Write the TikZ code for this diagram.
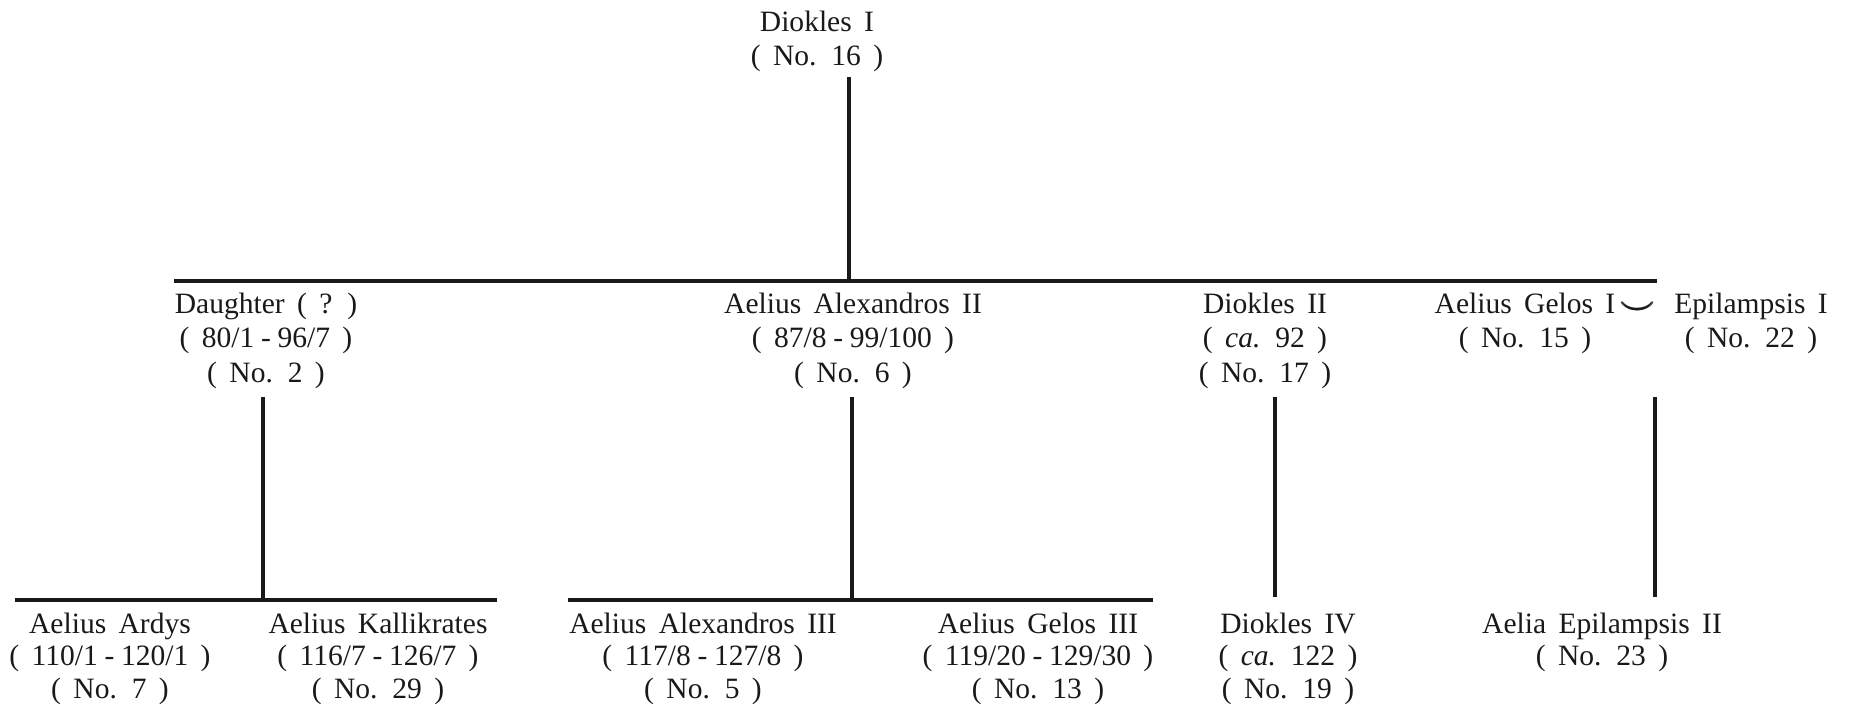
\documentclass[tikz,border=0pt]{standalone}
\usepackage{amsmath}
\usepackage{fontspec}
\setmainfont{Liberation Serif}
\usepackage{tikz}
\usetikzlibrary{positioning}
\definecolor{ink}{RGB}{25,25,25}
\newcommand{\namefont}[1]{\fontsize{8.4}{#1}\selectfont\spaceskip=0.42em plus 0.1em\relax}
\newcommand{\datesep}{\kern1.9pt-\kern1.9pt}

\begin{document}
\begin{tikzpicture}[x=0.1mm, y=-0.1mm,
  person/.style={anchor=north, inner sep=0pt, align=center, text=ink,
    font=\namefont{9.9}},
  lowrow/.style={person, font=\namefont{9.3}},
  stem/.style={draw=ink, line width=0.9pt}]
  \useasboundingbox (0,0) rectangle (1849,709);

  % generation I
  \node[person] (diokles1) at (817,10) {Diokles I\\( No. 16 )};

  % generation II
  \node[person] (daughter)    at (266,292)  {Daughter ( ? )\\( 80/1\datesep96/7 )\\( No. 2 )};
  \node[person] (alexandros2) at (853,292)  {Aelius Alexandros II\\( 87/8\datesep99/100 )\\( No. 6 )};
  \node[person] (diokles2)    at (1265,292) {Diokles II\\( {\itshape ca.} 92 )\\( No. 17 )};
  \node[person] (gelos1)      at (1525,292) {Aelius Gelos I\\( No. 15 )};
  \node[inner sep=0pt, text=ink] (wed) at (1638,309) {$\pmb{\smile}$};
  \node[person] (epilampsis1) at (1751,292) {Epilampsis I\\( No. 22 )};

  % generation III
  \node[lowrow] (ardys)       at (110,612)  {Aelius Ardys\\( 110/1\datesep120/1 )\\( No. 7 )};
  \node[lowrow] (kallikrates) at (378,612)  {Aelius Kallikrates\\( 116/7\datesep126/7 )\\( No. 29 )};
  \node[lowrow] (alexandros3) at (703,612)  {Aelius Alexandros III\\( 117/8\datesep127/8 )\\( No. 5 )};
  \node[lowrow] (gelos3)      at (1038,612) {Aelius Gelos III\\( 119/20\datesep129/30 )\\( No. 13 )};
  \node[lowrow] (diokles4)    at (1288,612) {Diokles IV\\( {\itshape ca.} 122 )\\( No. 19 )};
  \node[lowrow] (epilampsis2) at (1602,612) {Aelia Epilampsis II\\( No. 23 )};

  % sibling bars
  \coordinate (bar1w) at (174,281);  \coordinate (bar1e) at (1657,281);
  \coordinate (bar2w) at (15,600);   \coordinate (bar2e) at (497,600);
  \coordinate (bar3w) at (568,600);  \coordinate (bar3e) at (1153,600);
  \draw[stem] (bar1w) -- (bar1e);
  \draw[stem] (bar2w) -- (bar2e);
  \draw[stem] (bar3w) -- (bar3e);

  % descent lines
  \coordinate (drop1) at (849,77);
  \coordinate (drop2) at (263,397);
  \coordinate (drop3) at (852,397);
  \coordinate (drop4) at (1275,397);
  \coordinate (drop5) at (1655,397);
  \draw[stem] (drop1) -- (drop1 |- bar1w);
  \draw[stem] (drop2) -- (drop2 |- bar2w);
  \draw[stem] (drop3) -- (drop3 |- bar3w);
  \draw[stem] (drop4) -- ([yshift=0.3mm]drop4 |- bar2w);
  \draw[stem] (drop5) -- ([yshift=0.3mm]drop5 |- bar2w);
\end{tikzpicture}
\end{document}
